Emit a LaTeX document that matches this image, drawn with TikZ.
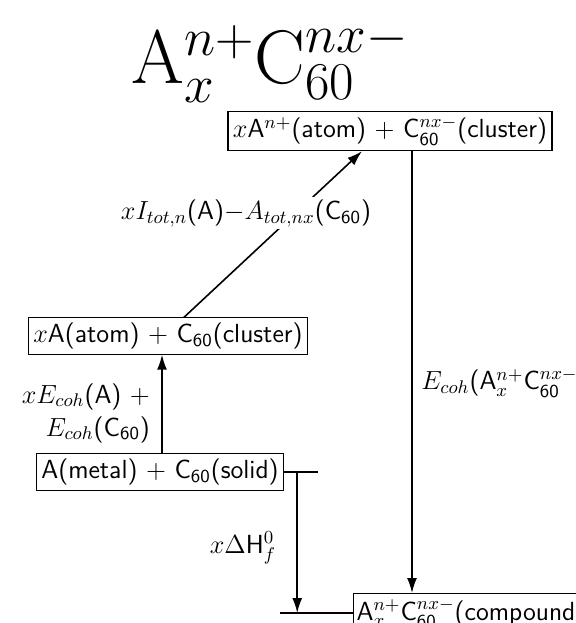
\RequirePackage{fix-cm}
\documentclass[tikz,border=0pt]{standalone}
\usepackage{amsmath}
\usetikzlibrary{arrows.meta, positioning}
\begin{document}
\begin{tikzpicture}[x=0.5pt, y=-0.5pt,
  level/.style={draw, line width=0.6pt, inner sep=2.5pt, font=\sffamily\fontsize{13.1}{15}\selectfont},
  tag/.style={font=\sffamily\fontsize{13.1}{16.5}\selectfont},
  >={Latex[length=7.5pt, width=5pt]}]
\useasboundingbox (0,0) rectangle (575,623);

\node (title) at (270,62) {\fontsize{38}{42}\selectfont $\mathrm{A}_x^{n+}\mathrm{C}_{60}^{nx-}$};

\node[level] (ionic) at (390,131) {$x$A$^{n+}$(atom) $+$ C$_{\textsf{60}}^{nx-}$(cluster)};
\node[level] (atomic) at (168,336) {$x$A(atom) $+$ C$_{\textsf{60}}$(cluster)};
\node[level] (solid) at (160,472) {A(metal) $+$ C$_{\textsf{60}}$(solid)};
\node[level, anchor=north west, inner xsep=1.5pt] (compound) at (353,593) {A$_x^{n+}$C$_{\textsf{60}}^{nx-}$(compound)};

% cycle
\draw[->, line width=0.8pt] ([xshift=1pt]solid.north) -- ([xshift=1pt]solid.north |- atomic.south);
\draw[->, line width=0.8pt] ([xshift=8pt]atomic.north) -- ([xshift=-14pt]ionic.south);
\draw[->, line width=0.8pt] ([xshift=11pt]ionic.south) -- ([xshift=11pt]ionic.south |- compound.north);

% formation
\coordinate (low) at (280,613);
\draw[line width=0.8pt] (solid.east) -- ++(34,0);
\draw[line width=0.8pt] (low) -- (low -| compound.west);
\draw[->, line width=0.8pt] ([xshift=6.5pt]solid.east) -- ([xshift=6.5pt]solid.east |- low);

\node[tag, fill=white, inner sep=1pt] (ionize) at (246,213) {$xI_{tot,n}$(A)$-A_{tot,nx}$(C$_{\textsf{60}}$)};
\node[tag, align=right, anchor=east] (cohesive) at (157,413) {$xE_{coh}$(A) $+$\\$E_{coh}$(C$_{\textsf{60}}$)};
\node[tag, anchor=west, inner xsep=0pt] (binding) at (421,383) {$E_{coh}$(A$_x^{n+}$C$_{\textsf{60}}^{nx-}$)};
\node[tag, anchor=east] (formation) at (283,548) {$x\Delta$H$_f^0$};
\end{tikzpicture}
\end{document}
